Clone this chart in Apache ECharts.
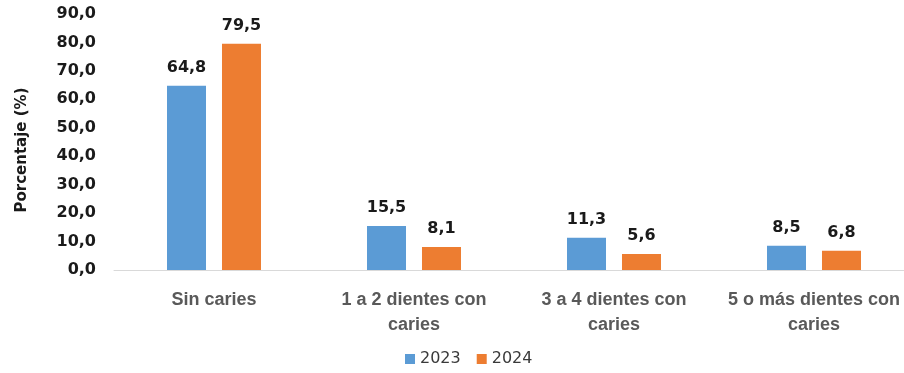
<!DOCTYPE html>
<html>
<head>
<meta charset="utf-8">
<script src="https://cdn.jsdelivr.net/npm/echarts@6/dist/echarts.min.js"></script>
<style>
  html, body { margin: 0; padding: 0; background: #fff; overflow: hidden; }
  #chart { width: 920px; height: 373px; }
</style>
</head>
<body>
<div id="chart"></div>
<script>
// Distribución de dientes con caries, 2023 vs 2024
var categories = ['Sin caries', '1 a 2 dientes con caries', '3 a 4 dientes con caries', '5 o más dientes con caries'];
var values2023 = [64.8, 15.5, 11.3, 8.5];
var values2024 = [79.5, 8.1, 5.6, 6.8];
var seriesNames = ['2023', '2024'];
var yTicks = { min: 0, max: 90, interval: 10 };

var fmt = function (v) { return v.toFixed(1).replace('.', ','); };
var numFont = 'DejaVu Sans, Verdana, sans-serif';
var textFont = 'Liberation Sans, Arial, sans-serif';

var labelStyle = {
  show: true,
  position: 'top',
  distance: 10,
  color: '#1a1a1a',
  fontWeight: 'bold',
  fontSize: 16,
  fontFamily: numFont,
  formatter: function (p) { return fmt(p.value); }
};

var chart = echarts.init(document.getElementById('chart'));
chart.setOption({
  animation: false,
  // the last category band runs slightly past the visible right edge
  grid: { left: 114, width: 800, top: 14, bottom: 103, containLabel: false },
  legend: {
    data: seriesNames,
    bottom: 1,
    left: 400,
    itemWidth: 10,
    itemHeight: 10,
    itemGap: 16,
    icon: 'rect',
    textStyle: { color: '#3a3a3a', fontSize: 16, fontFamily: numFont }
  },
  xAxis: {
    type: 'category',
    data: categories,
    axisLine: { lineStyle: { color: '#d9d9d9', width: 1 } },
    axisTick: { show: false },
    axisLabel: {
      color: '#595959',
      fontWeight: 'bold',
      fontSize: 18,
      fontFamily: textFont,
      margin: 18,
      lineHeight: 25,
      interval: 0,
      formatter: function (v) { return v.replace(/ con caries$/, ' con\ncaries'); }
    }
  },
  yAxis: {
    type: 'value',
    min: yTicks.min,
    max: yTicks.max,
    interval: yTicks.interval,
    name: 'Porcentaje (%)',
    nameLocation: 'middle',
    nameGap: 84,
    nameTextStyle: {
      color: '#1a1a1a', fontWeight: 'bold', fontSize: 15, fontFamily: numFont,
      padding: [0, 16, 0, 0]
    },
    axisLine: { show: false },
    axisTick: { show: false },
    splitLine: { show: false },
    axisLabel: {
      color: '#1a1a1a',
      fontWeight: 'bold',
      fontSize: 16,
      fontFamily: numFont,
      margin: 18,
      formatter: function (v) { return fmt(v); }
    }
  },
  series: [
    {
      name: seriesNames[0],
      type: 'bar',
      data: values2023,
      barWidth: 39,
      barGap: '41%',
      itemStyle: { color: '#5B9BD5' },
      label: labelStyle
    },
    {
      name: seriesNames[1],
      type: 'bar',
      data: values2024,
      barWidth: 39,
      barGap: '41%',
      itemStyle: { color: '#ED7D31' },
      label: labelStyle
    }
  ]
});
</script>
</body>
</html>
